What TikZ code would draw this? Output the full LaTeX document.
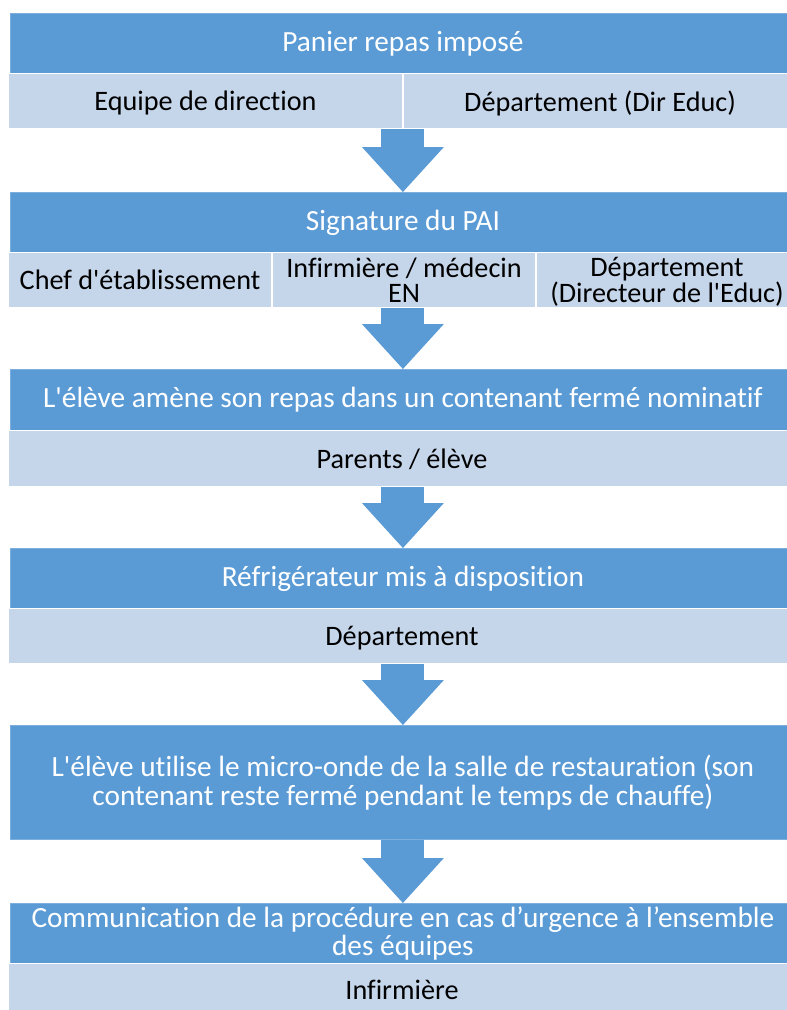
\documentclass[tikz,border=0pt]{standalone}
\usepackage{fontspec}
\setmainfont{Carlito}[Ligatures={TeXOff,CommonOff}]
\usetikzlibrary{arrows.meta}

\definecolor{stageblue}{HTML}{5B9BD5}
\definecolor{rolelight}{HTML}{C5D6EB}

\begin{document}
\begin{tikzpicture}[x=1pt,y=-1pt,
    stage/.style={fill=stageblue, draw=stageblue!80!white, line width=0.8pt, text=white,
        anchor=north west, inner sep=0pt, align=center, minimum width=785pt,
        font=\fontsize{29.3}{28.5}\selectfont},
    role/.style={fill=rolelight, draw=white, line width=1pt, text=black,
        anchor=north west, inner sep=0pt, align=center, text depth=0pt,
        font=\fontsize{28.2}{25.5}\selectfont},
    flow/.style={stageblue, line width=43pt,
        -{Triangle[width=82pt,length=45pt,line width=0pt]}}]
    \path[use as bounding box, clip] (0,0) rectangle (787,1010);

    % Step 1: panier repas
    \node[stage, minimum height=60pt] (d1) at (10,13) {Panier repas imposé};
    \node[role, minimum width=394pt, minimum height=55pt] (r1a) at (8,73) {Equipe de direction};
    \node[role, minimum width=393pt, minimum height=55pt] (r1b) at (r1a.north east) {Département (Dir Educ)};

    % Step 2: signature du PAI
    \node[stage, minimum height=60pt] (d2) at (10,192) {Signature du PAI};
    \node[role, minimum width=263pt, minimum height=55pt] (r2a) at (8,252) {Chef d'établissement};
    \node[role, minimum width=263pt, minimum height=55pt] (r2b) at (r2a.north east) {Infirmière / médecin\\EN};
    \node[role, minimum width=261pt, minimum height=55pt] (r2c) at (r2b.north east) {Département\\(Directeur de l'Educ)};

    % Step 3: repas de l'eleve
    \node[stage, minimum height=61pt] (d3) at (10,369) {L'élève amène son repas dans un contenant fermé nominatif};
    \node[role, minimum width=787pt, minimum height=56pt] (r3) at (8,430) {Parents / élève};

    % Step 4: refrigerateur
    \node[stage, minimum height=60pt] (d4) at (10,548) {Réfrigérateur mis à disposition};
    \node[role, minimum width=787pt, minimum height=55pt] (r4) at (8,608) {Département};

    % Step 5: micro-onde
    \node[stage, minimum height=114pt] (d5) at (10,725) {L'élève utilise le micro-onde de la salle de restauration (son\\contenant reste fermé pendant le temps de chauffe)};

    % Step 6: procedure d'urgence
    \node[stage, minimum height=60pt] (d6) at (10,903) {Communication de la procédure en cas d’urgence à l’ensemble\\des équipes};
    \node[role, minimum width=787pt, minimum height=52pt] (r6) at (8,963) {Infirmière};

    % Block arrows between steps
    \draw[flow] (d2.north |- r1a.south) -- (d2.north);
    \draw[flow] (d3.north |- r2b.south) -- (d3.north);
    \draw[flow] (d4.north |- r3.south) -- (d4.north);
    \draw[flow] (d5.north |- r4.south) -- (d5.north);
    \draw[flow] (d6.north |- d5.south) -- (d6.north);
\end{tikzpicture}
\end{document}
